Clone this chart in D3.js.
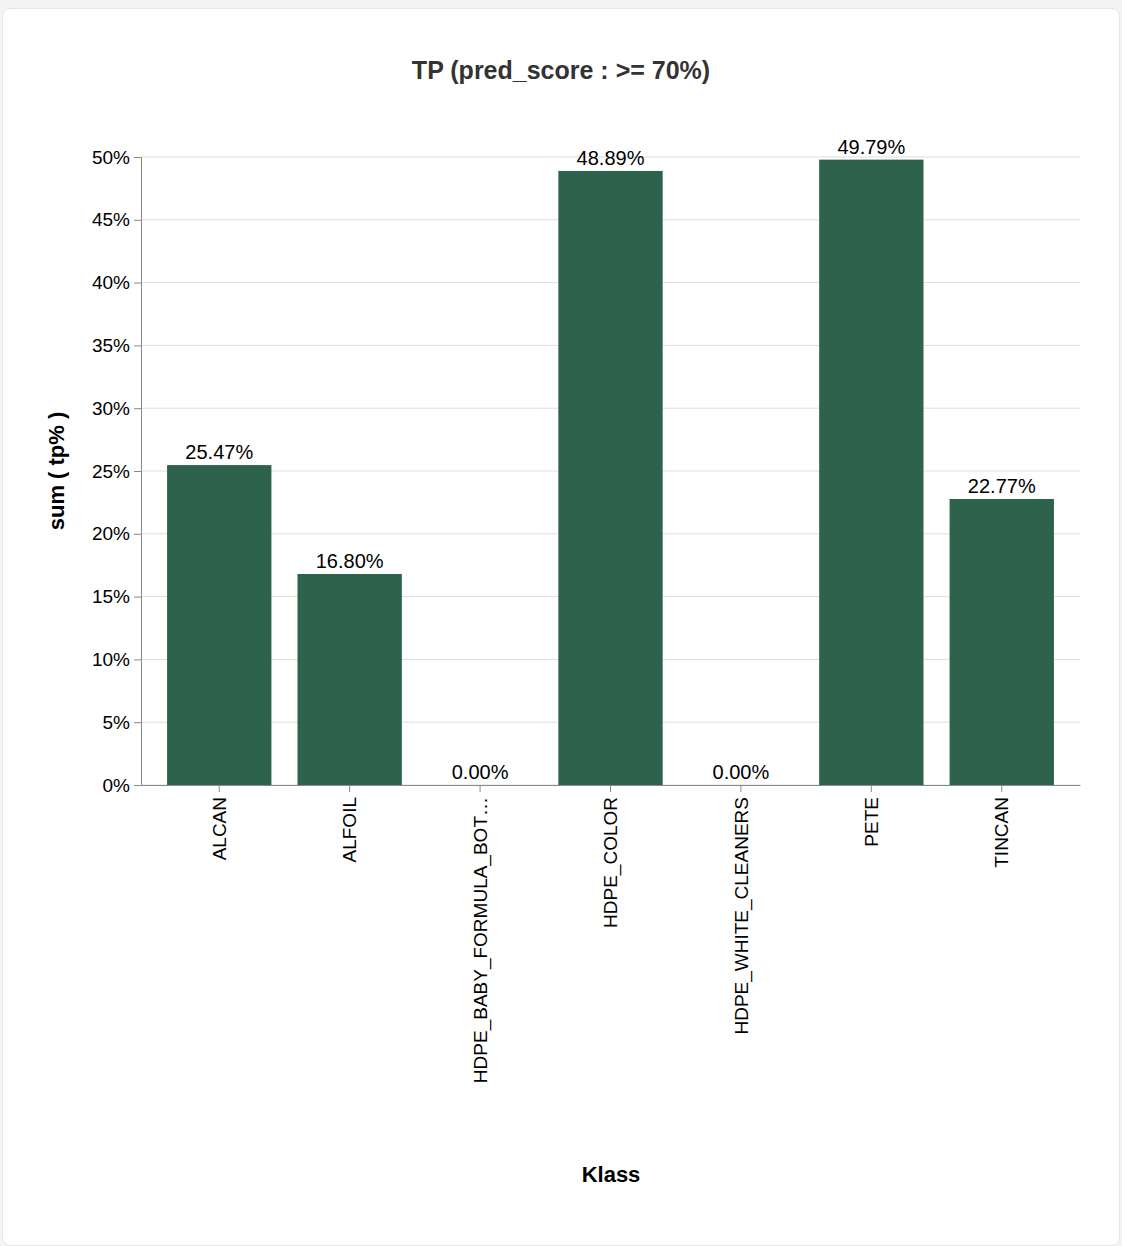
<!DOCTYPE html>
<html><head><meta charset="utf-8">
<script src="https://cdn.jsdelivr.net/npm/d3@7"></script>
<style>
body{margin:0;background:#f4f4f4;font-family:"Liberation Sans",Arial,sans-serif;}
#card{position:absolute;left:2px;top:8px;width:1116px;height:1236px;background:#fff;border:1px solid #e6e6e6;border-radius:8px;}
svg{position:absolute;left:0;top:0;}
</style></head><body>
<div id="card"></div>
<svg id="chart" width="1122" height="1246"></svg>
<script>
// chart data
var categories = ["ALCAN","ALFOIL","HDPE_BABY_FORMULA_BOTTLE","HDPE_COLOR","HDPE_WHITE_CLEANERS","PETE","TINCAN"];
var values = [25.47, 16.80, 0.00, 48.89, 0.00, 49.79, 22.77];
var yTicks = [0,5,10,15,20,25,30,35,40,45,50];

var mLeft = 141, mRight = 1080, mTop = 157, mBottom = 785;
var svg = d3.select("#chart");

var x = d3.scaleBand().domain(categories).range([mLeft, mRight]).paddingInner(0.2).paddingOuter(0.2);
var y = d3.scaleLinear().domain([0, 50]).range([mBottom, mTop]);

// grid
svg.append("g").selectAll("line").data(yTicks).enter().append("line")
	.attr("x1", mLeft).attr("x2", mRight)
	.attr("y1", function(d){ return y(d); }).attr("y2", function(d){ return y(d); })
	.attr("stroke", "#ddd");

// bars
svg.append("g").selectAll("rect").data(values).enter().append("rect")
	.attr("x", function(d, i){ return x(categories[i]); })
	.attr("y", function(d){ return y(d); })
	.attr("width", x.bandwidth())
	.attr("height", function(d){ return mBottom - y(d); })
	.attr("fill", "#2d624c");

// value labels
svg.append("g").selectAll("text").data(values).enter().append("text")
	.attr("x", function(d, i){ return x(categories[i]) + x.bandwidth()/2; })
	.attr("y", function(d){ return y(d) - 6; })
	.attr("text-anchor", "middle").attr("font-size", 20).attr("fill", "#000")
	.text(function(d){ return d.toFixed(2) + "%"; });

// y axis
var yAxis = svg.append("g").attr("transform", "translate(" + mLeft + ",0)")
	.call(d3.axisLeft(y).tickValues(yTicks).tickSize(7).tickPadding(4).tickFormat(function(d){ return d + "%"; }));
yAxis.selectAll("text").attr("font-size", 19).attr("fill", "#000").attr("font-family", "Liberation Sans, Arial");
yAxis.selectAll("line,path").attr("stroke", "#888");

// x axis
var xAxis = svg.append("g").attr("transform", "translate(0," + mBottom + ")")
	.call(d3.axisBottom(x).tickSize(7).tickSizeOuter(0).tickFormat(function(d){ return d.length > 22 ? d.slice(0, 21) + "…" : d; }));
xAxis.selectAll("line,path").attr("stroke", "#888");
xAxis.selectAll("text")
	.attr("font-size", 19).attr("fill", "#000").attr("font-family", "Liberation Sans, Arial")
	.attr("transform", "rotate(-90)")
	.attr("text-anchor", "end")
	.attr("x", -12).attr("y", 0).attr("dy", "0.35em");

// titles
svg.append("text").attr("x", 561).attr("y", 79).attr("text-anchor", "middle")
	.attr("font-size", 25).attr("font-weight", "bold").attr("fill", "#333")
	.text("TP (pred_score : >= 70%)");
svg.append("text").attr("x", 611).attr("y", 1182).attr("text-anchor", "middle")
	.attr("font-size", 22).attr("font-weight", "bold").attr("fill", "#000").text("Klass");
svg.append("text").attr("transform", "translate(64," + ((mTop + mBottom)/2) + ") rotate(-90)")
	.attr("text-anchor", "middle").attr("font-size", 22).attr("font-weight", "bold").attr("fill", "#000")
	.text("sum ( tp% )");
</script>
</body></html>
